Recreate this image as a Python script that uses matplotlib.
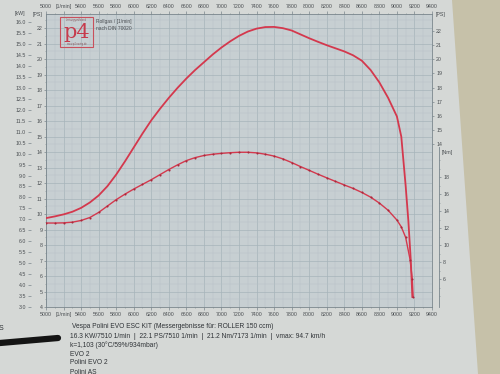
import matplotlib
matplotlib.use("Agg")
import matplotlib.pyplot as plt
import numpy as np
from matplotlib.patches import Polygon, Rectangle
from matplotlib.lines import Line2D

plt.rcParams['font.family'] = ['Liberation Sans', 'DejaVu Sans']

# power curve, PS over engine speed
power_rpm = [5000, 5100, 5200, 5300, 5400, 5500, 5600, 5700, 5800, 5900, 6000, 6100,
             6200, 6300, 6400, 6500, 6600, 6700, 6800, 6900, 7000, 7100, 7200, 7300,
             7400, 7500, 7600, 7700, 7800, 7900, 8000, 8100, 8200, 8300, 8400, 8500,
             8600, 8700, 8800, 8900, 9000, 9050, 9100, 9130, 9158, 9176]
power_ps = [9.74, 9.85, 9.98, 10.15, 10.4, 10.75, 11.2, 11.8, 12.55, 13.4, 14.3, 15.2,
            16.05, 16.8, 17.5, 18.15, 18.75, 19.3, 19.8, 20.3, 20.75, 21.15, 21.5, 21.78,
            21.97, 22.07, 22.08, 22.0, 21.85, 21.6, 21.35, 21.12, 20.9, 20.7, 20.5, 20.25,
            19.9, 19.3, 18.5, 17.5, 16.3, 15.0, 11.8, 9.6, 7.03, 4.65]

# torque curve, Nm over engine speed
torque_rpm = [5000, 5100, 5200, 5300, 5400, 5500, 5600, 5700, 5800, 5900, 6000, 6100,
              6200, 6300, 6400, 6500, 6600, 6700, 6800, 6900, 7000, 7100, 7200, 7300,
              7400, 7500, 7600, 7700, 7800, 7900, 8000, 8100, 8200, 8300, 8400, 8500,
              8600, 8700, 8800, 8900, 9000, 9050, 9100, 9150, 9175, 9185]
torque_nm = [12.6, 12.6, 12.62, 12.7, 12.9, 13.25, 13.85, 14.6, 15.35, 16.0, 16.6, 17.15,
             17.7, 18.3, 18.9, 19.45, 19.95, 20.3, 20.55, 20.7, 20.8, 20.88, 20.93, 20.93,
             20.86, 20.7, 20.48, 20.15, 19.72, 19.25, 18.8, 18.35, 17.92, 17.5, 17.08, 16.68,
             16.2, 15.65, 14.95, 14.1, 12.95, 12.15, 10.9, 8.3, 6.0, 3.9]

rpm_ticks = list(range(5000, 9401, 200))
rpm_labels = [str(r) for r in rpm_ticks]
rpm_labels[1] = '[1/min]'
ps_ticks = list(range(4, 23))
ps_right_ticks = list(range(14, 23))
kw_ticks = np.arange(3.0, 16.01, 0.5)
nm_ticks = list(range(6, 19, 2))

info_lines = [
    'Vespa Polini EVO ESC KIT (Messergebnisse für: ROLLER 150 ccm)',
    '16.3 KW/7510 1/min  |  22.1 PS/7510 1/min  |  21.2 Nm/7173 1/min  |  vmax: 94.7 km/h',
    'k=1,103 (30°C/59%/934mbar)',
    'EVO 2',
    'Polini EVO 2',
    'Polini AS',
]

txt = '#4a4e52'
red = '#d4384d'

fig = plt.figure(figsize=(5, 3.74), dpi=100)
fig.patch.set_facecolor('#c6c1a9')
# sheet of paper on the table
fig.add_artist(Polygon([(0, 0), (0, 1), (452 / 500, 1), (478 / 500, 0)], closed=True,
                       transform=fig.transFigure, fc='#d5d8d6', ec='none', zorder=-5))

ax = fig.add_axes([0.092, 0.179, 0.772, 0.783])
ax.set_facecolor('#c7cfd2')
ax.set_xlim(5000, 9400)
ax.set_ylim(4, 22.9)
ax.set_xticks(rpm_ticks, rpm_labels)
ax.set_xticks(range(5000, 9401, 100), minor=True)
ax.set_yticks(ps_ticks)
ax.set_yticks(np.arange(4, 22.9, 0.5), minor=True)
ax.grid(which='major', color='#a7b4ba', lw=0.5)
ax.grid(which='minor', color='#b8c2c7', lw=0.35)
ax.set_axisbelow(True)
ax.tick_params(axis='x', which='both', top=True, labeltop=True, labelsize=3.8,
               pad=1.5, colors='#7a868c', labelcolor=txt)
ax.tick_params(axis='x', which='major', length=2, width=0.5)
ax.tick_params(axis='x', which='minor', length=1, width=0.4)
ax.tick_params(axis='y', which='major', labelsize=3.8, length=1.5, width=0.5, pad=1,
               colors='#7a868c', labelcolor=txt)
ax.tick_params(axis='y', which='minor', length=1, width=0.4, colors='#7a868c')
for s in ax.spines.values():
    s.set_color('#7a868c')
    s.set_linewidth(0.6)
ax.text(-0.008, 1.0, '[PS]', transform=ax.transAxes, ha='right', va='center',
        fontsize=3.8, color=txt)

ax.plot(power_rpm, power_ps, color=red, lw=1.3, zorder=5, solid_joinstyle='round')

# kW scale on the far left
ax_kw = ax.twinx()
ax_kw.set_ylim(3.045, 16.36)
ax_kw.yaxis.tick_left()
for s in ax_kw.spines.values():
    s.set_visible(False)
ax_kw.spines['left'].set_position(('outward', 11))
ax_kw.set_yticks(kw_ticks, [f'{v:.1f}' for v in kw_ticks])
ax_kw.tick_params(axis='y', labelsize=3.8, length=2.5, width=0.5, pad=1,
                  colors='#7a868c', labelcolor=txt)
fig.text(20 / 500, 1 - 14 / 374, '[kW]', ha='center', va='center', fontsize=3.8, color=txt)

# PS scale on the right (upper part)
ax_psr = ax.twinx()
ax_psr.set_ylim(2.43, 23.2)
for s in ax_psr.spines.values():
    s.set_visible(False)
ax_psr.set_yticks(ps_right_ticks)
ax_psr.tick_params(axis='y', labelsize=3.8, length=1.5, width=0.5, pad=1.5,
                   colors='#7a868c', labelcolor=txt)
ax_psr.text(1.01, 1.0, '[PS]', transform=ax_psr.transAxes, ha='left', va='center',
            fontsize=3.8, color=txt)

# torque scale on the right (lower part)
ax_nm = ax.twinx()
ax_nm.set_ylim(2.71, 37.18)
for s in ['top', 'left', 'bottom']:
    ax_nm.spines[s].set_visible(False)
ax_nm.spines['right'].set_position(('outward', 5))
ax_nm.spines['right'].set_bounds(2.71, 21.5)
ax_nm.spines['right'].set_color('#7a868c')
ax_nm.spines['right'].set_linewidth(0.6)
ax_nm.set_yticks(nm_ticks)
ax_nm.set_yticks(range(4, 21), minor=True)
ax_nm.tick_params(axis='y', which='major', labelsize=3.8, length=1.5, width=0.5, pad=1.5,
                  colors='#7a868c', labelcolor=txt)
ax_nm.tick_params(axis='y', which='minor', length=1, width=0.4, colors='#7a868c')
ax_nm.text(1.025, 20.9, '[Nm]', transform=ax_nm.get_yaxis_transform(), ha='left',
           va='center', fontsize=3.8, color=txt)
ax_nm.plot(torque_rpm, torque_nm, color=red, lw=1.0, marker='o', ms=1.5,
           mfc='#a8293c', mec='none', zorder=5, solid_joinstyle='round')

# p4 logo box
fig.add_artist(Rectangle((60 / 500, 1 - 47 / 374), 33 / 500, 30 / 374, transform=fig.transFigure,
                         fc='none', ec='#c9505c', lw=0.8))
fig.text(76.5 / 500, 1 - 33 / 374, 'p4', ha='center', va='center', fontsize=15,
         family='DejaVu Serif', color='#c63b4c')
fig.text(76.5 / 500, 1 - 20.5 / 374, 'Leistungsprüfstand', ha='center', va='center',
         fontsize=1.8, color='#8a5a60')
fig.text(76.5 / 500, 1 - 44 / 374, 'www.p4-racing.de', ha='center', va='center',
         fontsize=1.8, color='#8a5a60')
fig.text(96 / 500, 1 - 21 / 374, 'Rollgas / [1/min]', ha='left', va='center', fontsize=3.5, color=txt)
fig.text(96 / 500, 1 - 29 / 374, 'nach DIN 70020', ha='left', va='center', fontsize=3.5, color=txt)

# footer with measurement info
for i, line in enumerate(info_lines):
    x = 72 if i == 0 else 70
    fig.text(x / 500, 1 - (327 + 9 * i) / 374, line, ha='left', va='center',
             fontsize=4.8, color='#2e3236')
fig.text(-0.002, 1 - 329 / 374, 'S', ha='left', va='center', fontsize=5, color='#2e3236')
fig.add_artist(Line2D([0, 58 / 500], [1 - 343 / 374, 1 - 338 / 374], transform=fig.transFigure,
                      color='#141414', lw=4.5, solid_capstyle='round'))

fig.savefig('out.png', dpi=100, facecolor=fig.get_facecolor())
